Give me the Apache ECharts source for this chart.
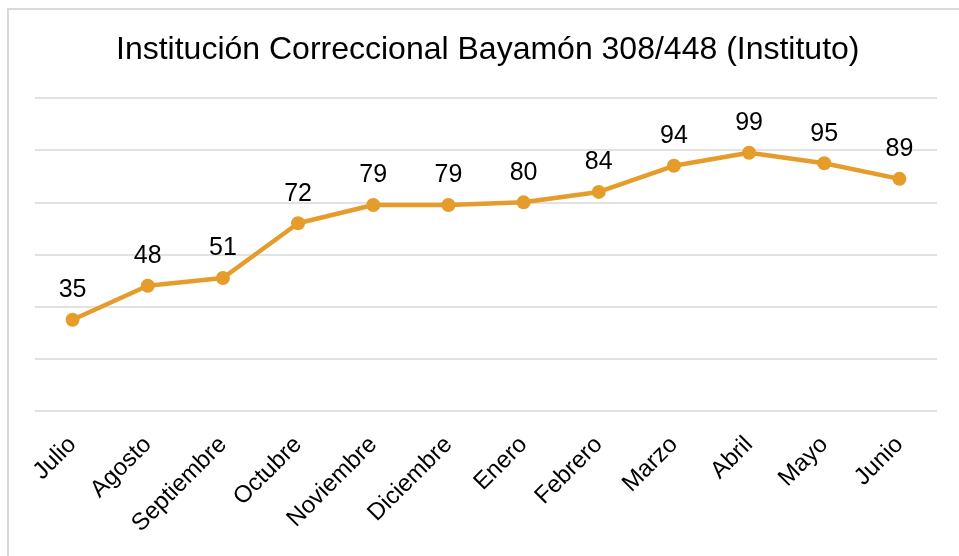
<!DOCTYPE html>
<html>
<head>
<meta charset="utf-8">
<script src="https://cdn.jsdelivr.net/npm/echarts@6/dist/echarts.min.js"></script>
<style>
  html, body { margin: 0; padding: 0; background: #fff; overflow: hidden; }
  #frame { position: absolute; left: 7px; top: 8px; width: 980px; height: 600px; border: 2px solid #d9d9d9; box-sizing: border-box; }
  #chart { position: absolute; left: 0; top: 0; width: 959px; height: 556px; }
</style>
</head>
<body>
<div id="frame"></div>
<div id="chart"></div>
<script>
// meses del año fiscal
const months = ['Julio', 'Agosto', 'Septiembre', 'Octubre', 'Noviembre', 'Diciembre',
  'Enero', 'Febrero', 'Marzo', 'Abril', 'Mayo', 'Junio']
const population = [35, 48, 51, 72, 79, 79, 80, 84, 94, 99, 95, 89]

const font = 'Arial, "Liberation Sans", sans-serif'
const chart = echarts.init(document.getElementById('chart'))
chart.setOption({
  animation: false,
  title: {
    text: 'Institución Correccional Bayamón 308/448 (Instituto)',
    left: 111,
    top: 29,
    textStyle: {
      fontFamily: font,
      fontSize: 32,
      fontWeight: 'normal',
      color: '#000'
    }
  },
  grid: {
    top: 98,
    left: 35,
    right: 22,
    bottom: 145
  },
  xAxis: {
    type: 'category',
    data: months,
    axisLine: { show: false },
    axisTick: { show: false },
    axisLabel: {
      rotate: 45,
      margin: 30,
      fontFamily: font,
      fontSize: 24,
      color: '#000'
    }
  },
  yAxis: {
    type: 'value',
    min: 0,
    max: 120,
    interval: 20,
    axisLabel: { show: false },
    axisLine: { show: false },
    axisTick: { show: false },
    splitLine: { lineStyle: { color: '#d9d9d9', width: 1.5 } }
  },
  series: [{
    type: 'line',
    data: population,
    symbol: 'circle',
    symbolSize: 14,
    lineStyle: { color: '#E59C2B', width: 4.5 },
    itemStyle: { color: '#E59C2B' },
    label: {
      show: true,
      position: 'top',
      distance: 10,
      fontFamily: font,
      fontSize: 25,
      color: '#000'
    }
  }]
})
</script>
</body>
</html>
